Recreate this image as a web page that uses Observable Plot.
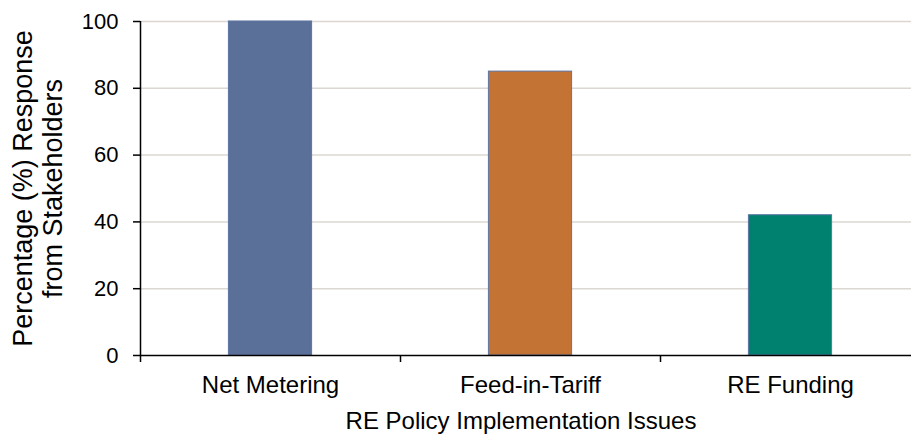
<!DOCTYPE html>
<html><head><meta charset="utf-8">
<script src="https://cdn.jsdelivr.net/npm/d3@7"></script>
<script src="https://cdn.jsdelivr.net/npm/@observablehq/plot@0.6"></script>
<style>body{margin:0;background:#fff} svg{display:block}</style>
</head><body><div id="chart"></div>
<script>
const categories = ["Net Metering", "Feed-in-Tariff", "RE Funding"];
const values = [100, 85, 42];
const colors = ["#5a7098", "#c37434", "#00806f"];
const yTicks = [0, 20, 40, 60, 80, 100];
const xTitle = "RE Policy Implementation Issues";
const yTitle = "Percentage (%) Response\nfrom Stakeholders";

const data = categories.map((c, i) => ({i, c, v: values[i]}));

const plot = Plot.plot({
  width: 911, height: 438,
  marginLeft: 140, marginRight: 0, marginTop: 21, marginBottom: 83,
  style: {fontFamily: "'Liberation Sans', Arial, sans-serif", background: "#fff", color: "#000"},
  x: {domain: [0, 3], range: [140, 920]},
  y: {domain: [0, 100], range: [355, 21]},
  color: {domain: categories, range: colors},
  marks: [
    Plot.ruleY(yTicks.filter(d => d > 0), {stroke: "#dcd7d2", strokeWidth: 1.5}),
    Plot.rectY(data, {x1: d => d.i + 0.34, x2: d => d.i + 0.66, y1: 0, y2: "v", fill: "c", stroke: "#5c74a4", strokeWidth: 1}),
    Plot.axisY({ticks: yTicks, tickSize: 7, tickPadding: 15, fontSize: 22, label: null, strokeWidth: 1.5, stroke: "#000"}),
    Plot.ruleX([0], {stroke: "#000", strokeWidth: 1.5}),
    Plot.ruleY([0], {stroke: "#000", strokeWidth: 1.5}),
    Plot.axisX({ticks: [0, 1, 2, 3], tickSize: 7, tickFormat: () => "", label: null, strokeWidth: 1.5, stroke: "#000"}),
    Plot.axisX({ticks: categories.map((c, i) => i + 0.5), tickSize: 0, tickPadding: 20, tickFormat: d => categories[Math.floor(d)], fontSize: 24, label: null}),
    Plot.text([xTitle], {frameAnchor: "bottom", dy: 66, dx: -5, fontSize: 24, lineAnchor: "middle", fill: "#000"}),
    Plot.text([yTitle], {frameAnchor: "left", rotate: -90, dx: -103, fontSize: 27, lineHeight: 1.12, lineAnchor: "middle", textAnchor: "middle", fill: "#000"})
  ]
});
document.getElementById("chart").appendChild(plot);
</script>
</body></html>
